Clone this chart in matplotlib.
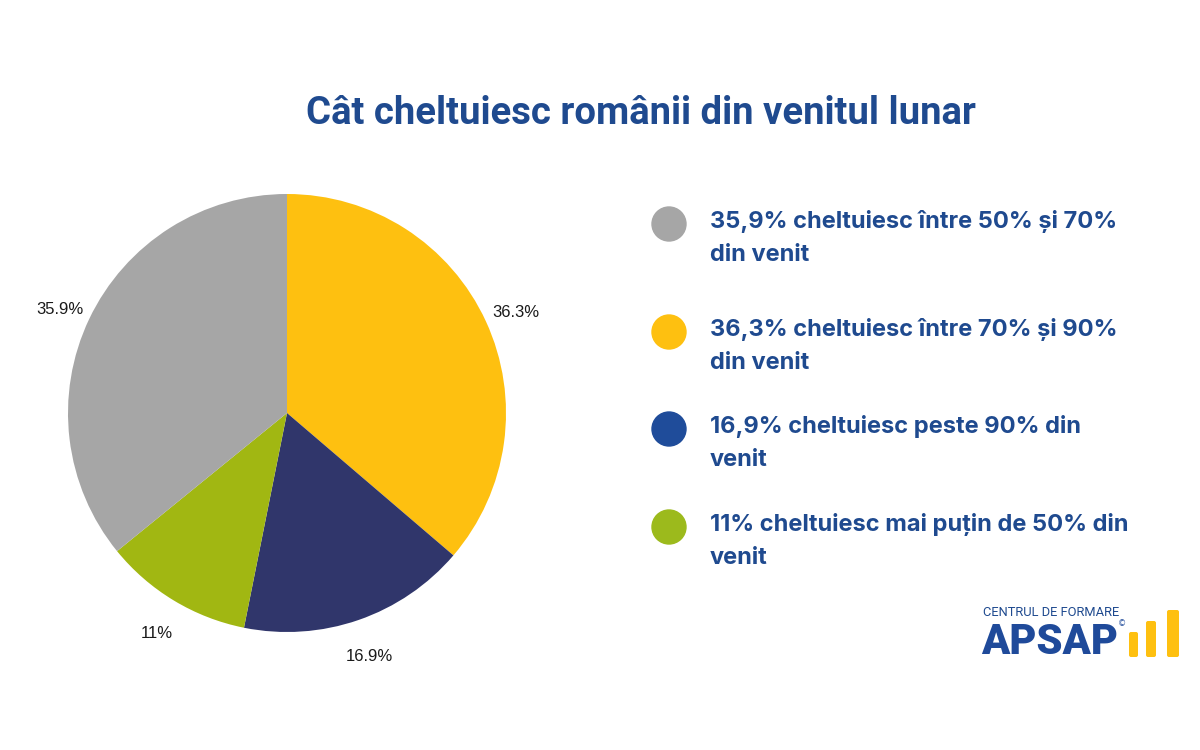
import matplotlib.pyplot as plt
from matplotlib.patches import Circle, FancyBboxPatch

# data (clockwise from top)
shares = [36.3, 16.9, 11, 35.9]
pie_labels = ['36.3%', '16.9%', '11%', '35.9%']
pie_colors = ['#FEC010', '#30366B', '#A1B712', '#A6A6A6']

legend_texts = [
    '35,9% cheltuiesc între 50% și 70%\ndin venit',
    '36,3% cheltuiesc între 70% și 90%\ndin venit',
    '16,9% cheltuiesc peste 90% din\nvenit',
    '11% cheltuiesc mai puțin de 50% din\nvenit',
]
legend_colors = ['#A6A6A6', '#FEC010', '#1F4C9A', '#9CBA1C']

title = 'Cât cheltuiesc românii din venitul lunar'
blue = '#1F4A8F'

fig = plt.figure(figsize=(12, 7.5), dpi=100)
ax = fig.add_axes([0, 0, 1, 1])

H = 750
wedges, texts = ax.pie(shares, labels=pie_labels, colors=pie_colors, startangle=90,
                       counterclock=False, center=(287, H - 413), radius=219,
                       labeldistance=1.15, frame=True,
                       textprops=dict(fontsize=12, color='#1a1a1a', family='Liberation Sans'))
for t in texts:
    t.set_horizontalalignment('center')
    t.set_verticalalignment('center')
    x, y = t.get_position()
    t.set_position((x, y - 5))
ax.set_xlim(0, 1200)
ax.set_ylim(0, 750)
ax.axis('off')

ax.text(641, H - 113, title, ha='center', va='center', fontsize=27.5,
        fontweight='bold', color=blue, family='Roboto')

rows = [224, 332, 429, 527]
for y, txt, c in zip(rows, legend_texts, legend_colors):
    ax.add_patch(Circle((669, H - y), 17, color=c))
    ax.text(710, H - y + 14, txt, ha='left', va='top', fontsize=17,
            fontweight='bold', color=blue, family='Inter', linespacing=1.62)

# logo
ax.text(1051, H - 613, 'CENTRUL DE FORMARE', ha='center', va='center',
        fontsize=9.3, color=blue, family='Roboto')
ax.text(1050, H - 642, 'APSAP', ha='center', va='center', fontsize=30,
        fontweight='black', color='#1F4A9A', family='Roboto')
ax.text(1122, H - 624, '©', ha='center', va='center', fontsize=6, color='#1F4A9A')
for x0, x1, top in [(1129, 1138, 632), (1146, 1156, 621), (1167, 1179, 610)]:
    ax.add_patch(FancyBboxPatch((x0, H - 657), x1 - x0, 657 - top,
                                boxstyle='round,pad=0,rounding_size=2',
                                color='#FEC010', lw=0))

fig.savefig('out.png', dpi=100, facecolor='white')
